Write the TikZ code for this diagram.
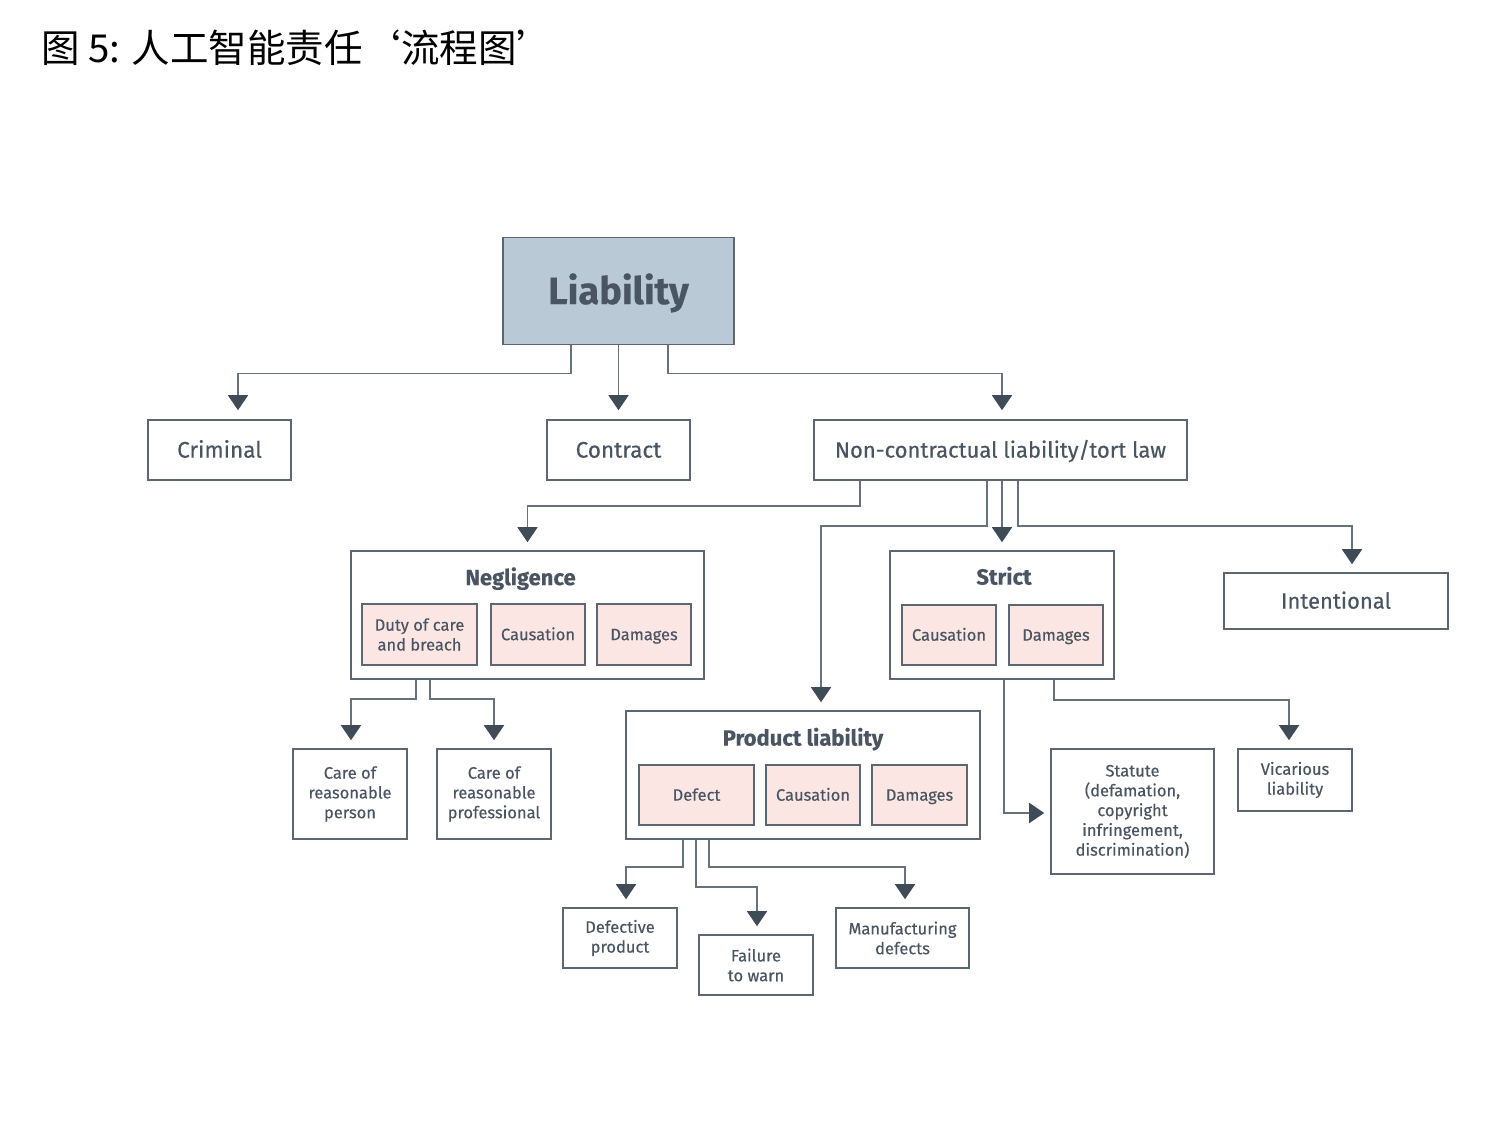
\documentclass[tikz,border=0pt]{standalone}
\usepackage{fontspec}
\setmainfont{Fira Sans}[FakeBold=0.35]
\newfontfamily\cjk{Noto Sans CJK SC}
\usetikzlibrary{arrows.meta}
\definecolor{linec}{HTML}{67727D}
\definecolor{tipc}{HTML}{3F4B57}
\definecolor{txtc}{HTML}{4A5562}
\definecolor{liafill}{HTML}{B9C9D5}
\definecolor{pinkfill}{HTML}{FBE6E3}
\definecolor{boxline}{HTML}{5C6773}
\begin{document}
\begin{tikzpicture}[x=1pt,y=-1pt,
  box/.style={draw=boxline, line width=1.6pt, fill=white, text=txtc, align=center, inner sep=0pt,
    font=\fontsize{22}{26}\selectfont},
  one/.style={text height=#1, text depth=0pt},
  one/.default=15.2pt,
  smallbox/.style={box, font=\fontsize{16.5}{19.8}\selectfont},
  pinkbox/.style={box, fill=pinkfill, font=\fontsize{16.5}{19.8}\selectfont},
  grouptitle/.style={text=txtc, inner sep=0pt, font=\fontsize{22}{26}\selectfont\bfseries},
  conn/.style={draw=linec, line width=1.6pt, -{Triangle[width=20pt,length=15pt,color=tipc]}}
]
\useasboundingbox (0,0) rectangle (1498,1133);
\fill[white] (0,0) rectangle (1498,1133);

% title
\node[anchor=west, inner sep=0pt, font=\cjk\fontsize{38.5}{44}\selectfont, text=black] (title) at (41,48) {图 5: 人工智能责任‘流程图’};

% top level
\node[box, one=26.2pt, fill=liafill, minimum width=231pt, minimum height=107pt, font=\fontsize{38}{46}\selectfont\bfseries] (lia) at (618.5,291) {Liability};
\node[box, one, minimum width=143pt, minimum height=60pt, font=\fontsize{22.5}{26}\selectfont] (crim) at (219.5,450) {Criminal};
\node[box, one, minimum width=143pt, minimum height=60pt, font=\fontsize{22.5}{26}\selectfont] (contr) at (618.5,450) {Contract};
\node[box, one, minimum width=373pt, minimum height=60pt] (tort) at (1000.5,450) {Non-contractual liability/tort law};

% group boxes
\node[box, minimum width=353pt, minimum height=128pt] (neg) at (527.5,615) {};
\node[grouptitle, one] (negt) at (520.5,577.5) {Negligence};
\node[pinkbox, minimum width=115pt, minimum height=61pt] (nduty) at (419.5,634.5) {Duty of care\\and breach};
\node[pinkbox, one=11.4pt, minimum width=94pt, minimum height=61pt] (ncaus) at (538,634.5) {Causation};
\node[pinkbox, one=11.4pt, minimum width=94pt, minimum height=61pt] (ndam) at (644,634.5) {Damages};

\node[box, minimum width=224pt, minimum height=128pt] (strict) at (1002,615) {};
\node[grouptitle, one] (strictt) at (1004,577) {Strict};
\node[pinkbox, one=11.4pt, minimum width=94pt, minimum height=60pt] (scaus) at (949,635) {Causation};
\node[pinkbox, one=11.4pt, minimum width=94pt, minimum height=60pt] (sdam) at (1056,635) {Damages};

\node[box, one, minimum width=224pt, minimum height=56pt] (intent) at (1336,601) {Intentional};

\node[box, minimum width=354pt, minimum height=128pt] (prod) at (803,775) {};
\node[grouptitle, one] (prodt) at (803,738) {Product liability};
\node[pinkbox, one=11.4pt, minimum width=115pt, minimum height=60pt] (pdef) at (696.5,795) {Defect};
\node[pinkbox, one=11.4pt, minimum width=94pt, minimum height=60pt] (pcaus) at (813,795) {Causation};
\node[pinkbox, one=11.4pt, minimum width=95pt, minimum height=60pt] (pdam) at (919.5,795) {Damages};

% leaves
\node[smallbox, minimum width=114pt, minimum height=90pt] (cperson) at (350,794) {Care of\\reasonable\\person};
\node[smallbox, minimum width=114pt, minimum height=90pt] (cprof) at (494,794) {Care of\\reasonable\\professional};
\node[smallbox, minimum width=163pt, minimum height=125pt] (statute) at (1132.5,811.5) {Statute\\(defamation,\\copyright\\infringement,\\discrimination)};
\node[smallbox, minimum width=114pt, minimum height=62pt] (vicar) at (1295,780) {Vicarious\\liability};
\node[smallbox, minimum width=114pt, minimum height=60pt] (defprod) at (620,938) {Defective\\product};
\node[smallbox, minimum width=114pt, minimum height=60pt] (fail) at (756,965) {Failure\\to warn};
\node[smallbox, minimum width=133pt, minimum height=60pt] (manuf) at (902.5,938) {Manufacturing\\defects};

% connectors
\draw[conn] ([xshift=-47.5pt]lia.south) -- ++(0,28) -| ([xshift=18.5pt,yshift=9pt]crim.north);
\draw[conn] ([yshift=0.5pt]lia.south) -- ([yshift=9pt]contr.north);
\draw[conn] ([xshift=49.5pt]lia.south) -- ++(0,28) -| ([xshift=1.5pt,yshift=9pt]tort.north);

\draw[conn] ([xshift=-140.5pt]tort.south) -- ++(0,25) -| ([yshift=8pt]neg.north);
\draw[conn] ([xshift=-13.5pt]tort.south) -- ++(0,45) -| ([xshift=18pt,yshift=8pt]prod.north);
\draw[conn] ([xshift=1.5pt]tort.south) -- ([yshift=8pt]strict.north);
\draw[conn] ([xshift=17.5pt]tort.south) -- ++(0,45) -| ([xshift=16pt,yshift=8pt]intent.north);

\draw[conn] ([xshift=-111.5pt]neg.south) -- ++(0,19) -| ([xshift=1pt,yshift=8pt]cperson.north);
\draw[conn] ([xshift=-97.5pt]neg.south) -- ++(0,19) -| ([yshift=8pt]cprof.north);

\draw[conn] ([xshift=2pt]strict.south) |- ([xshift=-6pt,yshift=-1.5pt]statute.west);
\draw[conn] ([xshift=52pt]strict.south) -- ++(0,20) -| ([xshift=-6pt,yshift=8pt]vicar.north);

\draw[conn] ([xshift=-120pt]prod.south) -- ++(0,27) -| ([xshift=6pt,yshift=8pt]defprod.north);
\draw[conn] ([xshift=-107pt]prod.south) -- ++(0,47) -| ([xshift=1pt,yshift=8pt]fail.north);
\draw[conn] ([xshift=-94pt]prod.south) -- ++(0,27) -| ([xshift=2.5pt,yshift=8pt]manuf.north);
\end{tikzpicture}
\end{document}
